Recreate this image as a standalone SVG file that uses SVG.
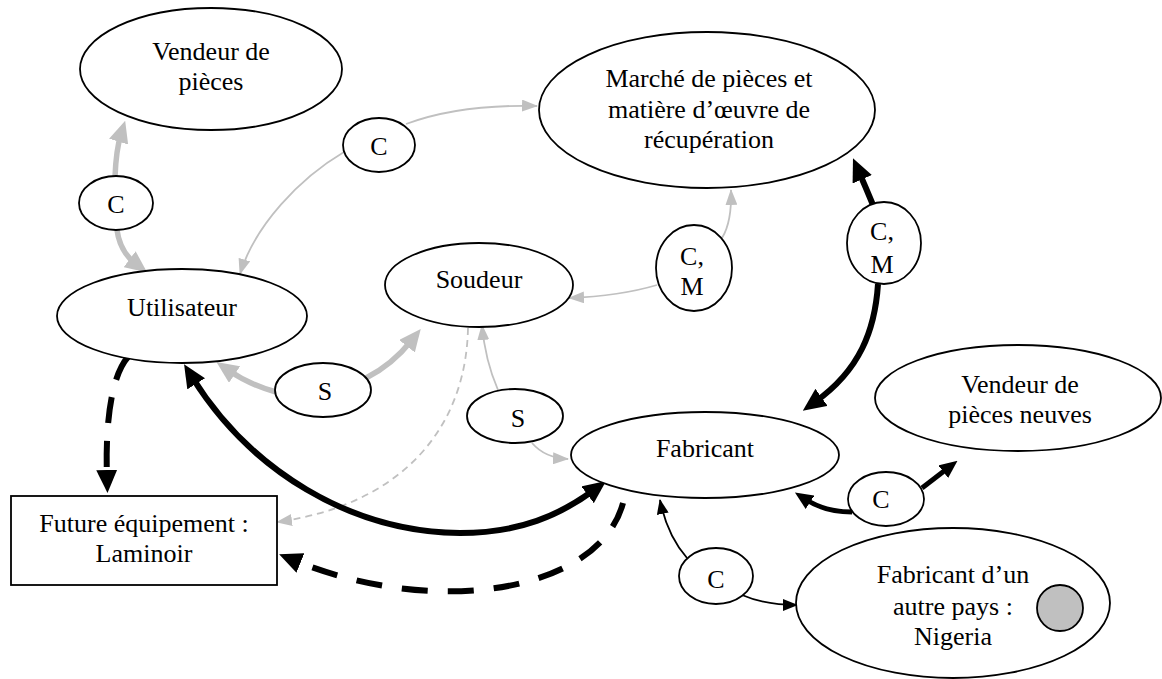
<svg xmlns="http://www.w3.org/2000/svg" width="1162" height="679" viewBox="0 0 1162 679">
<style>
.node{fill:#fff;stroke:#000;stroke-width:1.8}
.t text{font-size:26px;fill:#000;text-anchor:middle}
.gthick{fill:none;stroke:#c0c0c0;stroke-width:5.5}
.gthin{fill:none;stroke:#c0c0c0;stroke-width:1.8}
.bthick{fill:none;stroke:#000;stroke-width:6}
.bmed{fill:none;stroke:#000;stroke-width:5}
.bthin{fill:none;stroke:#000;stroke-width:1.8}
</style>
<defs>
<marker id="gL" markerUnits="userSpaceOnUse" markerWidth="22" markerHeight="20" refX="8" refY="10" orient="auto-start-reverse"><path d="M0,0 L22,10 L0,20 z" fill="#c0c0c0"/></marker>
<marker id="gS" markerUnits="userSpaceOnUse" markerWidth="16" markerHeight="12" refX="15" refY="6" orient="auto-start-reverse"><path d="M0,0 L16,6 L0,12 z" fill="#c0c0c0"/></marker>
<marker id="bL" markerUnits="userSpaceOnUse" markerWidth="23" markerHeight="21" refX="8" refY="10.5" orient="auto-start-reverse"><path d="M0,0 L23,10.5 L0,21 z" fill="#000"/></marker>
<marker id="bM" markerUnits="userSpaceOnUse" markerWidth="18" markerHeight="16" refX="6" refY="8" orient="auto-start-reverse"><path d="M0,0 L18,8 L0,16 z" fill="#000"/></marker>
<marker id="bS" markerUnits="userSpaceOnUse" markerWidth="15" markerHeight="12" refX="14" refY="6" orient="auto-start-reverse"><path d="M0,0 L15,6 L0,12 z" fill="#000"/></marker>
</defs>
<g id="connectors">
<path class="gthick" d="M115,177 Q116,150 121,134" marker-end="url(#gL)"/>
<path class="gthick" d="M117,230 Q120,252 136,264" marker-end="url(#gL)"/>
<path class="gthin" d="M406,124 Q460,104 537,106" marker-end="url(#gS)"/>
<path class="gthin" d="M344,152 C300,178 255,225 240,274" marker-end="url(#gS)"/>
<path class="gthin" d="M722,238 Q732,222 731,190" marker-end="url(#gS)"/>
<path class="gthin" d="M657,285 Q620,296 569,298" marker-end="url(#gS)"/>
<path class="bthick" d="M873,205 Q866,188 859,172" marker-end="url(#bL)"/>
<path class="bthick" d="M878,284 C875,330 860,370 815,402" marker-end="url(#bL)"/>
<path class="gthick" d="M276,392 Q250,385 228,370" marker-end="url(#gL)"/>
<path class="gthick" d="M366,378 Q392,365 412,340" marker-end="url(#gL)"/>
<path class="gthin" d="M498,390 Q485,360 482,325" marker-end="url(#gS)"/>
<path class="gthin" d="M532,443 Q545,458 568,459" marker-end="url(#gS)"/>
<path class="gthin" d="M468,328 C466,430 400,505 277,522" stroke-dasharray="7,5" marker-end="url(#gS)"/>
<path class="bthick" d="M192,377 C250,470 350,532 460,533 C520,533 560,515 594,490" marker-start="url(#bL)" marker-end="url(#bL)"/>
<path class="bthick" d="M128,357 C112,375 105,420 107,478" stroke-dasharray="26,18" marker-end="url(#bL)"/>
<path class="bthick" d="M623,503 C600,590 440,620 293,560" stroke-dasharray="26,20" marker-end="url(#bL)"/>
<path class="bmed" d="M852,512 Q825,512 805,499" marker-end="url(#bM)"/>
<path class="bmed" d="M922,488 L948,468" marker-end="url(#bM)"/>
<path class="bthin" d="M687,558 Q667,535 660,500" marker-end="url(#bS)"/>
<path class="bthin" d="M742,595 Q765,605 797,605" marker-end="url(#bS)"/>
</g>
<g class="t" font-family="'Liberation Serif', 'Times New Roman', serif">
<g id="vendeur-pieces"><ellipse class="node" cx="211" cy="69" rx="131" ry="61"/><text x="211" y="60">Vendeur de</text><text x="211" y="90">pièces</text></g>
<g id="marche"><ellipse class="node" cx="707" cy="110" rx="168" ry="78"/><text x="709" y="87">Marché de pièces et</text><text x="709" y="118">matière d’œuvre de</text><text x="709" y="148">récupération</text></g>
<g id="label-c1"><ellipse class="node" cx="116" cy="203" rx="37" ry="27"/><text x="116" y="213">C</text></g>
<g id="label-c2"><ellipse class="node" cx="379" cy="145" rx="36" ry="27"/><text x="379" y="155">C</text></g>
<g id="utilisateur"><ellipse class="node" cx="182" cy="316" rx="125" ry="47"/><text x="182" y="316">Utilisateur</text></g>
<g id="soudeur"><ellipse class="node" cx="479" cy="285" rx="94" ry="42"/><text x="479" y="288">Soudeur</text></g>
<g id="label-cm1"><ellipse class="node" cx="694" cy="268" rx="38" ry="43"/><text x="692" y="265">C,</text><text x="692" y="295">M</text></g>
<g id="label-cm2"><ellipse class="node" cx="884" cy="243" rx="37" ry="41"/><text x="882" y="240">C,</text><text x="882" y="273">M</text></g>
<g id="label-s1"><ellipse class="node" cx="323" cy="390" rx="48" ry="27"/><text x="325" y="400">S</text></g>
<g id="label-s2"><ellipse class="node" cx="515" cy="416" rx="48" ry="27"/><text x="518" y="427">S</text></g>
<g id="vendeur-neuves"><ellipse class="node" cx="1018" cy="398" rx="143" ry="53"/><text x="1020" y="393">Vendeur de</text><text x="1020" y="423">pièces neuves</text></g>
<g id="fabricant"><ellipse class="node" cx="705" cy="455" rx="134" ry="43"/><text x="705" y="457">Fabricant</text></g>
<g id="label-c3"><ellipse class="node" cx="886" cy="499" rx="38" ry="27"/><text x="881" y="508">C</text></g>
<g id="label-c4"><ellipse class="node" cx="716" cy="576" rx="37" ry="28"/><text x="716" y="588">C</text></g>
<g id="futur"><rect class="node" x="11" y="496" width="266" height="89"/><text x="144" y="532">Future équipement :</text><text x="144" y="562">Laminoir</text></g>
<g id="nigeria"><ellipse class="node" cx="953" cy="603" rx="157" ry="75"/><text x="953" y="583">Fabricant d’un</text><text x="953" y="615">autre pays :</text><text x="953" y="645">Nigeria</text><circle cx="1060" cy="608" r="23" fill="#c0c0c0" stroke="#000" stroke-width="1.8"/></g>
</g>
</svg>
